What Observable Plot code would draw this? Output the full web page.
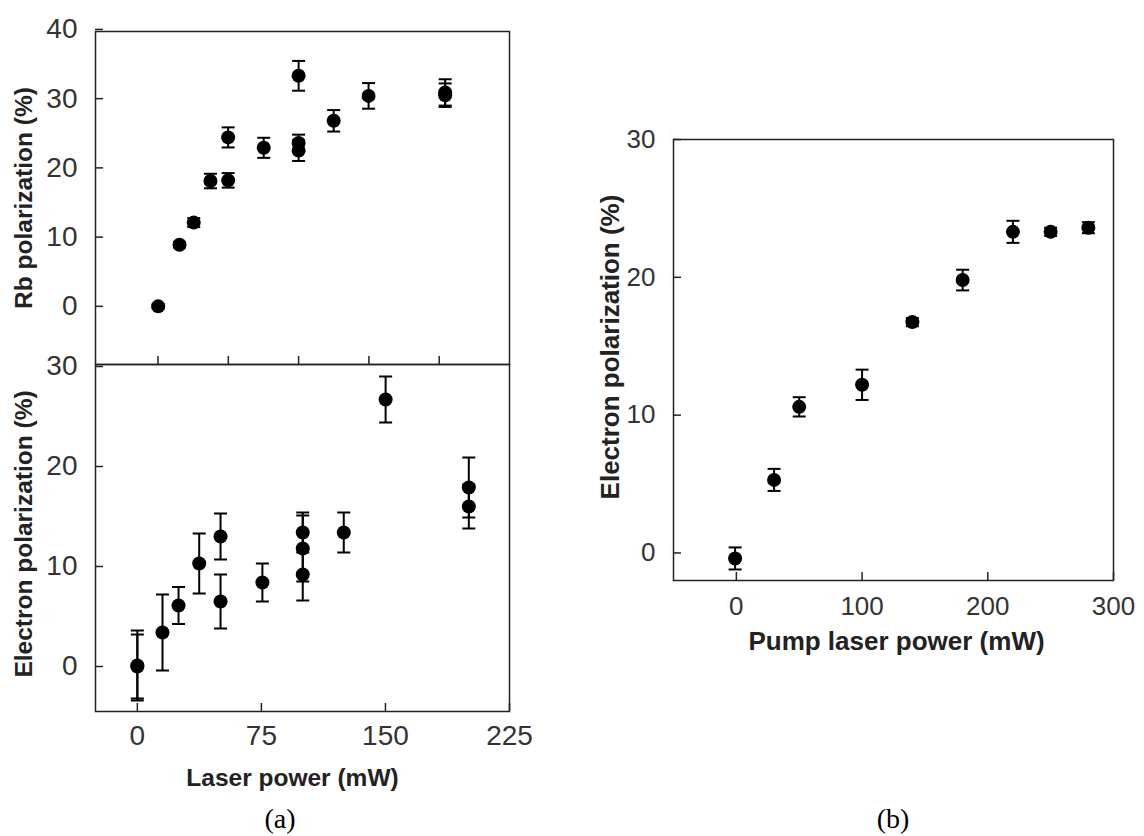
<!DOCTYPE html>
<html><head><meta charset="utf-8">
<script src="https://cdn.jsdelivr.net/npm/d3@7"></script>
<script src="https://cdn.jsdelivr.net/npm/@observablehq/plot@0.6"></script>
<style>
body{margin:0;background:#fff;}
#wrap{position:relative;width:1144px;height:836px;overflow:hidden;background:#fff;}
#wrap svg{position:absolute;left:0;top:0;}
.cap{position:absolute;font-family:"Liberation Serif","Times New Roman",serif;font-size:28px;line-height:28px;color:#000;transform:translateX(-50%);white-space:nowrap;}
</style></head><body><div id="wrap"></div>
<script>
// ---- Panel (a) top: Rb polarization ----
const rbPower = [12.6, 25.5, 34.1, 44.2, 54.9, 54.9, 76.4, 97.5, 97.5, 97.5, 118.7, 139.8, 186.1, 186.1];
const rbPol   = [0, 8.9, 12.1, 18.1, 18.2, 24.4, 22.9, 33.3, 23.6, 22.5, 26.8, 30.4, 30.9, 30.5];
const rbErr   = [0.3, 0.4, 0.65, 1.05, 1.05, 1.45, 1.45, 2.15, 1.2, 1.5, 1.55, 1.85, 1.9, 1.7];
const rbTicksY = [0, 10, 20, 30, 40];
const rbTicksX = [12.5, 55, 97.5, 140, 182.5];

// ---- Panel (a) bottom: Electron polarization vs laser power ----
const eaPower = [0, 0, 15.2, 24.9, 37.4, 50.3, 50.3, 75.6, 100, 100, 100, 124.8, 150.1, 200.4, 200.4];
const eaPol   = [0.1, 0.0, 3.4, 6.1, 10.3, 13.0, 6.5, 8.4, 13.4, 11.8, 9.2, 13.4, 26.7, 17.9, 16.0];
const eaErr   = [3.5, 3.2, 3.8, 1.85, 3.0, 2.3, 2.7, 1.9, 2.0, 3.3, 2.6, 2.0, 2.3, 3.0, 2.2];
const eaTicksY = [0, 10, 20, 30];
const eaTicksX = [0, 75, 150, 225];

// ---- Panel (b): Electron polarization vs pump laser power ----
const ebPower = [-1, 30, 50, 100, 140, 180, 220, 250, 280];
const ebPol   = [-0.4, 5.3, 10.6, 12.2, 16.75, 19.8, 23.3, 23.3, 23.6];
const ebErr   = [0.8, 0.8, 0.7, 1.1, 0.3, 0.75, 0.8, 0.3, 0.4];
const ebTicksY = [0, 10, 20, 30];
const ebTicksX = [0, 100, 200, 300];

const rows = (xs, ys, es) => xs.map((x, i) => ({x, y: ys[i], e: es[i]}));
const capSymbol = {draw(ctx, size) { const r = Math.sqrt(size / Math.PI); ctx.moveTo(-r, 0); ctx.lineTo(r, 0); }};

const W = 1144, H = 836;
const FONT = "'Liberation Sans', Arial, sans-serif";

function errorMarks(data) {
  return [
    Plot.ruleX(data, {x: "x", y1: d => d.y - d.e, y2: d => d.y + d.e, stroke: "#000", strokeWidth: 2}),
    Plot.dot(data, {x: "x", y: d => d.y + d.e, symbol: capSymbol, r: 6.5, stroke: "#000", strokeWidth: 2, fill: "none"}),
    Plot.dot(data, {x: "x", y: d => d.y - d.e, symbol: capSymbol, r: 6.5, stroke: "#000", strokeWidth: 2, fill: "none"}),
    Plot.dot(data, {x: "x", y: "y", r: 7, fill: "#000", stroke: "none"})
  ];
}

function panel({data, xDomain, yDomain, xTicks, yTicks, showXLabels, margins, tickFont, titleFont,
                yTitle, yTitleDx, yTitleDy, xTitle, xTitleDx, xTitleDy, xPad}) {
  const titleOpts = {fontFamily: FONT, fontWeight: "bold", fontSize: titleFont, fill: "#222", text: d => d};
  const marks = [
    Plot.frame({stroke: "#222", strokeWidth: 1.5}),
    Plot.axisY(yTicks, {anchor: "left", tickSize: -8, tickPadding: 26, label: null, stroke: "#222", strokeWidth: 1.5, fill: "#333"}),
    Plot.axisX(xTicks, {anchor: "bottom", tickSize: -8, tickPadding: xPad, label: null, stroke: "#222", strokeWidth: 1.5, fill: "#333",
      tickFormat: showXLabels ? (d => String(d)) : (() => "")}),
    ...errorMarks(data),
    Plot.text([yTitle], {...titleOpts, frameAnchor: "left", rotate: -90, dx: yTitleDx, dy: yTitleDy, textAnchor: "middle", lineAnchor: "middle"})
  ];
  if (xTitle) marks.push(Plot.text([xTitle], {...titleOpts, frameAnchor: "bottom", dx: xTitleDx, dy: xTitleDy, textAnchor: "middle", lineAnchor: "bottom"}));
  return Plot.plot({
    width: W, height: H,
    ...margins,
    style: {fontFamily: FONT, fontSize: tickFont + "px", color: "#333", background: "none", overflow: "visible"},
    x: {domain: xDomain},
    y: {domain: yDomain},
    marks
  });
}

const wrap = document.getElementById("wrap");

wrap.append(panel({
  data: rows(rbPower, rbPol, rbErr),
  xDomain: [-25.3, 225], yDomain: [-8.4, 39.7],
  xTicks: rbTicksX, yTicks: rbTicksY, showXLabels: false, xPad: 22,
  tickFont: 28, titleFont: 24.5,
  margins: {marginLeft: 95, marginRight: W - 509, marginTop: 31, marginBottom: H - 364},
  yTitle: "Rb polarization (%)", yTitleDx: -71, yTitleDy: 0
}));

wrap.append(panel({
  data: rows(eaPower, eaPol, eaErr),
  xDomain: [-25.3, 225], yDomain: [-4.5, 30.2],
  xTicks: eaTicksX, yTicks: eaTicksY, showXLabels: true, xPad: 22,
  tickFont: 28, titleFont: 24.5,
  margins: {marginLeft: 95, marginRight: W - 509, marginTop: 364, marginBottom: H - 711},
  yTitle: "Electron polarization (%)", yTitleDx: -71, yTitleDy: -4,
  xTitle: "Laser power (mW)", xTitleDx: -10, xTitleDy: 74
}));

wrap.append(panel({
  data: rows(ebPower, ebPol, ebErr),
  xDomain: [-50, 300], yDomain: [-2, 30],
  xTicks: ebTicksX, yTicks: ebTicksY, showXLabels: true, xPad: 24,
  tickFont: 26, titleFont: 26,
  margins: {marginLeft: 673, marginRight: W - 1113, marginTop: 139, marginBottom: H - 580},
  yTitle: "Electron polarization (%)", yTitleDx: -63, yTitleDy: -13,
  xTitle: "Pump laser power (mW)", xTitleDx: 3, xTitleDy: 69
}));

const capA = document.createElement("div");
capA.className = "cap"; capA.textContent = "(a)"; capA.style.left = "280px"; capA.style.top = "805px";
const capB = document.createElement("div");
capB.className = "cap"; capB.textContent = "(b)"; capB.style.left = "893px"; capB.style.top = "805px";
wrap.append(capA, capB);
</script>
</body></html>
